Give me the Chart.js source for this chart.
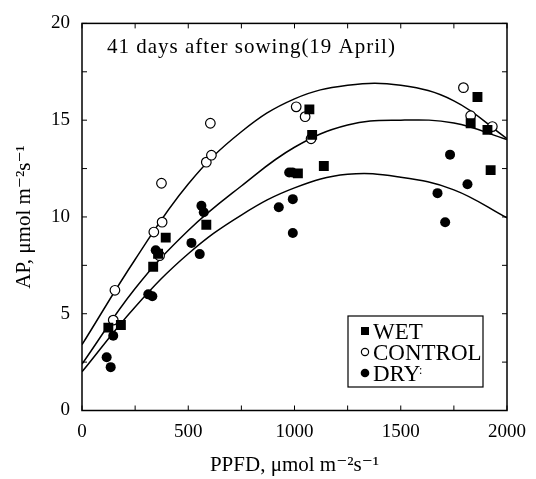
<!DOCTYPE html>
<html>
<head>
<meta charset="utf-8">
<script src="https://cdn.jsdelivr.net/npm/chart.js@4.4.0/dist/chart.umd.min.js"></script>
<style>
  body { margin: 0; background: #fff; }
  #wrap { width: 536px; height: 479px; }
</style>
</head>
<body>
<div id="wrap"><canvas id="apChart" width="536" height="479"></canvas></div>
<script>
// measured points (PPFD, AP)
const wetX = [124, 183, 335, 358, 394, 585, 1016, 1070, 1083, 1138, 1829, 1861, 1908, 1923];
const wetY = [4.28, 4.42, 7.43, 8.1, 8.93, 9.6, 12.25, 15.56, 14.24, 12.63, 14.84, 16.2, 14.5, 12.42];

const controlX = [147, 155, 338, 365, 377, 374, 585, 609, 604, 1008, 1050, 1078, 1795, 1829, 1931];
const controlY = [4.67, 6.21, 9.22, 8.0, 9.73, 11.74, 12.83, 13.19, 14.84, 15.69, 15.18, 14.04, 16.68, 15.23, 14.67];

const dryX = [116, 135, 147, 312, 331, 347, 515, 554, 562, 573, 926, 975, 990, 992, 992, 1673, 1709, 1732, 1814];
const dryY = [2.75, 2.24, 3.86, 6.0, 5.9, 8.28, 8.66, 8.08, 10.58, 10.24, 10.5, 12.3, 12.3, 10.92, 9.17, 11.23, 9.73, 13.22, 11.69];

// fitted curves
const fitX = [0, 250, 500, 750, 1000, 1250, 1500, 1750, 2000];
const fitControl = [3.4, 7.8, 11.7, 14.4, 16.1, 16.8, 16.8, 16.0, 14.05];
const fitWet = [2.4, 6.3, 9.3, 11.6, 13.6, 14.75, 15.0, 14.85, 14.0];
const fitDry = [2.0, 5.35, 8.1, 10.1, 11.5, 12.2, 12.05, 11.4, 9.95];

const xTicks = [0, 500, 1000, 1500, 2000];
const yTicks = [0, 5, 10, 15, 20];

const SERIF = "'Liberation Serif', 'DejaVu Serif', serif";

function pts(xs, ys) {
    return xs.map((v, i) => ({ x: v, y: ys[i] }));
}

function curve(ys) {
    return {
        type: "line",
        data: pts(fitX, ys),
        borderColor: "#000",
        borderWidth: 1.5,
        pointRadius: 0,
        tension: 0.4,
        fill: false,
    };
}

// box, inward ticks, caption and legend
const decor = {
    id: "decor",
    afterDraw(chart) {
        const { ctx, chartArea: a, scales } = chart;
        const x = scales.x, y = scales.y;
        ctx.save();
        ctx.strokeStyle = "#000";
        ctx.lineWidth = 1.5;
        ctx.strokeRect(a.left, a.top, a.right - a.left, a.bottom - a.top);

        ctx.lineWidth = 1;
        ctx.beginPath();
        x.ticks.forEach((t) => {
            const px = x.getPixelForValue(t.value);
            ctx.moveTo(px, a.bottom); ctx.lineTo(px, a.bottom - 5);
            ctx.moveTo(px, a.top); ctx.lineTo(px, a.top + 5);
        });
        y.ticks.forEach((t) => {
            const py = y.getPixelForValue(t.value);
            ctx.moveTo(a.left, py); ctx.lineTo(a.left + 5, py);
            ctx.moveTo(a.right, py); ctx.lineTo(a.right - 5, py);
        });
        ctx.stroke();

        ctx.fillStyle = "#000";
        ctx.font = "21px " + SERIF;
        ctx.letterSpacing = "1px";
        ctx.textBaseline = "alphabetic";
        ctx.fillText("41 days after sowing(19 April)", 107, 53);
        ctx.letterSpacing = "0px";

        // legend
        ctx.lineWidth = 1.2;
        ctx.strokeRect(348, 316, 135, 71);
        ctx.font = "23px " + SERIF;
        ctx.fillRect(361, 327, 8, 8);
        ctx.fillText("WET", 373, 339);
        ctx.beginPath();
        ctx.arc(365, 352, 3.6, 0, Math.PI * 2);
        ctx.stroke();
        ctx.fillText("CONTROL", 373, 360);
        ctx.beginPath();
        ctx.arc(365, 373, 4.3, 0, Math.PI * 2);
        ctx.fill();
        ctx.fillText("DRY", 373, 381);
        ctx.font = "12px " + SERIF;
        ctx.fillText(":", 419, 374);
        ctx.restore();
    },
};

new Chart(document.getElementById("apChart").getContext("2d"), {
    type: "scatter",
    data: {
        datasets: [
            {
                label: "WET",
                data: pts(wetX, wetY),
                pointStyle: "rect",
                pointRadius: 7,
                backgroundColor: "#000",
                borderColor: "#000",
                borderWidth: 0,
            },
            {
                label: "CONTROL",
                data: pts(controlX, controlY),
                pointStyle: "circle",
                pointRadius: 4.8,
                backgroundColor: "#fff",
                borderColor: "#000",
                borderWidth: 1.2,
            },
            {
                label: "DRY",
                data: pts(dryX, dryY),
                pointStyle: "circle",
                pointRadius: 5,
                backgroundColor: "#000",
                borderColor: "#000",
                borderWidth: 0,
            },
            curve(fitControl),
            curve(fitWet),
            curve(fitDry),
        ],
    },
    options: {
        responsive: false,
        animation: false,
        devicePixelRatio: 1,
        layout: { padding: { left: 0, right: 28, top: 19, bottom: 0 } },
        scales: {
            x: {
                type: "linear",
                min: 0,
                max: 2000,
                afterFit: (s) => { s.height = 68.5; },
                grid: { display: false, drawTicks: false },
                border: { display: false },
                ticks: {
                    stepSize: 250,
                    padding: 10,
                    color: "#000",
                    font: { family: SERIF, size: 19 },
                    maxRotation: 0,
                    autoSkip: false,
                    callback: (v) => (xTicks.includes(v) ? String(v) : ""),
                },
                title: {
                    display: true,
                    text: "PPFD, μmol m⁻²s⁻¹",
                    color: "#000",
                    font: { family: SERIF, size: 21 },
                    padding: { top: 0, bottom: 1 },
                },
            },
            y: {
                type: "linear",
                min: 0,
                max: 20,
                afterFit: (s) => { s.width = 82; },
                grid: { display: false, drawTicks: false },
                border: { display: false },
                ticks: {
                    stepSize: 2.5,
                    padding: 12,
                    color: "#000",
                    font: { family: SERIF, size: 19 },
                    autoSkip: false,
                    callback: (v) => (yTicks.includes(v) ? String(v) : ""),
                },
                title: {
                    display: true,
                    text: "AP, μmol m⁻²s⁻¹",
                    color: "#000",
                    font: { family: SERIF, size: 21 },
                    padding: { top: 12, bottom: 0 },
                },
            },
        },
        plugins: {
            legend: { display: false },
            tooltip: { enabled: false },
        },
    },
    plugins: [decor],
});
</script>
</body>
</html>
